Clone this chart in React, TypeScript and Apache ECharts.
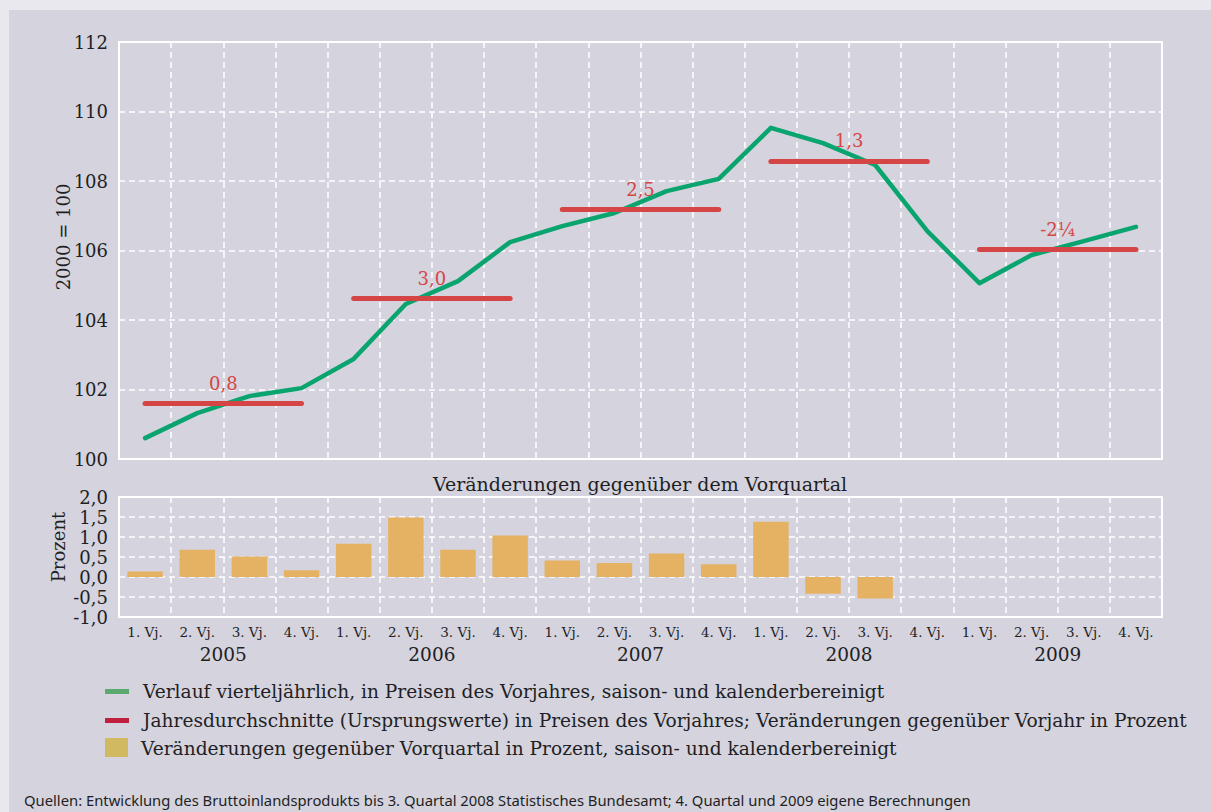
import React, { useEffect, useRef } from "react";
import * as echarts from "echarts";

const quarterLabels = ["1. Vj.", "2. Vj.", "3. Vj.", "4. Vj."];
const years = ["2005", "2006", "2007", "2008", "2009"];
const categories = years.flatMap((y) => quarterLabels.map((q) => `${y} ${q}`));

const indexValues = [
  100.6, 101.32, 101.81, 102.04, 102.88, 104.46, 105.12, 106.24, 106.7, 107.08,
  107.71, 108.06, 109.53, 109.09, 108.46, 106.56, 105.06, 105.87, 106.27, 106.68,
];
const annualAverages = [101.61, 104.63, 107.19, 108.58, 106.04];
const annualChangeLabels = ["0,8", "3,0", "2,5", "1,3", "-2¼"];
const quarterlyChanges = [
  0.14, 0.68, 0.51, 0.17, 0.83, 1.49, 0.68, 1.04, 0.41, 0.35, 0.59, 0.32, 1.38,
  -0.42, -0.54, null, null, null, null, null,
];
const topTicks = { min: 100, max: 112, interval: 2 };
const bottomTicks = { min: -1, max: 2, interval: 0.5 };

const topAxisName = "2000 = 100";
const bottomAxisName = "Prozent";
const legendItems = [
  "Verlauf vierteljährlich, in Preisen des Vorjahres, saison- und kalenderbereinigt",
  "Jahresdurchschnitte (Ursprungswerte) in Preisen des Vorjahres; Veränderungen gegenüber Vorjahr in Prozent",
  "Veränderungen gegenüber Vorquartal in Prozent, saison- und kalenderbereinigt",
];
const subTitle = "Veränderungen gegenüber dem Vorquartal";
const sourceNote =
  "Quellen: Entwicklung des Bruttoinlandsprodukts bis 3. Quartal 2008 Statistisches Bundesamt; 4. Quartal und 2009 eigene Berechnungen";

const SERIF = "DejaVu Serif";
const TEXT = "#1f1f24";
const GREEN = "#0aa46e";
const RED = "#d64545";
const BAR = "#e5b264";

export default function App() {
  const ref = useRef<HTMLDivElement>(null);
  useEffect(() => {
    if (!ref.current) return;
    const chart = echarts.init(ref.current, null, { renderer: "svg" });
    const splitStyle = { color: "#ffffff", type: [6, 4] as any, width: 1.5 };
    const option: any = {
      animation: false,
      backgroundColor: "#e9e8ee",
      textStyle: { fontFamily: SERIF, color: TEXT },
      grid: [
        { left: 119, top: 42, width: 1043, height: 417, show: true, borderColor: "#ffffff", borderWidth: 2, backgroundColor: "transparent" },
        { left: 119, top: 497, width: 1043, height: 120, show: true, borderColor: "#ffffff", borderWidth: 2, backgroundColor: "transparent" },
      ],
      title: {
        text: subTitle,
        left: 635,
        textAlign: "center",
        top: 469,
        textStyle: { fontFamily: SERIF, fontSize: 19, fontWeight: "normal", color: TEXT },
      },
      xAxis: [
        {
          gridIndex: 0,
          type: "category",
          data: categories,
          boundaryGap: true,
          axisLine: { show: false },
          axisTick: { show: false },
          axisLabel: { show: false },
          splitLine: { show: true, interval: 0, lineStyle: splitStyle },
        },
        {
          gridIndex: 1,
          type: "category",
          data: categories,
          position: "bottom",
          boundaryGap: true,
          axisLine: { show: false },
          axisTick: { show: false },
          axisLabel: {
            interval: 0,
            margin: 8,
            fontSize: 13.5,
            color: TEXT,
            fontFamily: SERIF,
            formatter: (_v: string, i: number) => quarterLabels[i % 4],
          },
          splitLine: { show: true, interval: 0, lineStyle: splitStyle },
        },
        {
          gridIndex: 1,
          type: "category",
          data: years,
          position: "bottom",
          boundaryGap: true,
          axisLine: { show: false },
          axisTick: { show: false },
          axisLabel: { interval: 0, margin: 28, fontSize: 18.5, color: TEXT, fontFamily: SERIF },
          splitLine: { show: false },
        },
      ],
      yAxis: [
        {
          gridIndex: 0,
          type: "value",
          ...topTicks,
          axisLine: { show: false },
          axisTick: { show: false },
          axisLabel: { margin: 11, fontSize: 18, color: TEXT, fontFamily: SERIF },
          splitLine: { show: true, lineStyle: splitStyle },
        },
        {
          gridIndex: 1,
          type: "value",
          ...bottomTicks,
          axisLine: { show: false },
          axisTick: { show: false },
          axisLabel: {
            margin: 11,
            fontSize: 18,
            color: TEXT,
            fontFamily: SERIF,
            formatter: (v: number) => v.toFixed(1).replace(".", ","),
          },
          splitLine: { show: true, lineStyle: splitStyle },
        },
      ],
      series: [
        {
          type: "line",
          xAxisIndex: 0,
          yAxisIndex: 0,
          data: indexValues,
          symbol: "none",
          z: 2,
          lineStyle: { color: GREEN, width: 4.5, join: "round", cap: "round" },
        },
        {
          type: "line",
          xAxisIndex: 0,
          yAxisIndex: 0,
          data: [],
          symbol: "none",
          z: 3,
          markLine: {
            silent: true,
            symbol: "none",
            z: 3,
            lineStyle: { color: RED, width: 5, type: "solid", cap: "round" },
            label: {
              show: true,
              position: "middle",
              distance: 11,
              color: RED,
              fontFamily: SERIF,
              fontSize: 18,
              formatter: (p: any) => annualChangeLabels[p.dataIndex],
            },
            emphasis: { disabled: true },
            data: annualAverages.map((v, i) => [
              { coord: [i * 4, v] },
              { coord: [i * 4 + 3, v] },
            ]),
          },
        },
        {
          type: "bar",
          xAxisIndex: 1,
          yAxisIndex: 1,
          data: quarterlyChanges,
          barWidth: "68%",
          itemStyle: { color: BAR },
        },
      ],
      graphic: [
        {
          type: "rect",
          z: -10,
          silent: true,
          shape: { x: 9, y: 10, width: 1202, height: 802 },
          style: { fill: "#d4d3de" },
        },
        {
          type: "text",
          silent: true,
          x: 63,
          y: 237,
          rotation: Math.PI / 2,
          style: { text: topAxisName, fontFamily: SERIF, fontSize: 18, fill: TEXT, align: "center", verticalAlign: "middle" },
        },
        {
          type: "text",
          silent: true,
          x: 58,
          y: 547,
          rotation: Math.PI / 2,
          style: { text: bottomAxisName, fontFamily: SERIF, fontSize: 18, fill: TEXT, align: "center", verticalAlign: "middle" },
        },
        {
          type: "rect",
          silent: true,
          shape: { x: 105, y: 689, width: 24, height: 5 },
          style: { fill: "#5aaa6f" },
        },
        {
          type: "text",
          silent: true,
          x: 143,
          y: 691,
          style: { text: legendItems[0], fontFamily: SERIF, fontSize: 18.6, fill: TEXT, verticalAlign: "middle" },
        },
        {
          type: "rect",
          silent: true,
          shape: { x: 105, y: 718, width: 24, height: 5 },
          style: { fill: "#c0203f" },
        },
        {
          type: "text",
          silent: true,
          x: 143,
          y: 720,
          style: { text: legendItems[1], fontFamily: SERIF, fontSize: 18.6, fill: TEXT, verticalAlign: "middle" },
        },
        {
          type: "rect",
          silent: true,
          shape: { x: 105, y: 738, width: 23, height: 19 },
          style: { fill: "#d0b960" },
        },
        {
          type: "text",
          silent: true,
          x: 141,
          y: 748,
          style: { text: legendItems[2], fontFamily: SERIF, fontSize: 18.6, fill: TEXT, verticalAlign: "middle" },
        },
        {
          type: "text",
          silent: true,
          x: 24,
          y: 800,
          style: { text: sourceNote, fontFamily: "Noto Sans", fontSize: 14.8, fill: TEXT, verticalAlign: "middle" },
        },
      ],
    };
    chart.setOption(option);
    return () => chart.dispose();
  }, []);
  return (
    <div
      ref={ref}
      style={{ position: "absolute", left: 0, top: 0, width: 1211, height: 812 }}
    />
  );
}
